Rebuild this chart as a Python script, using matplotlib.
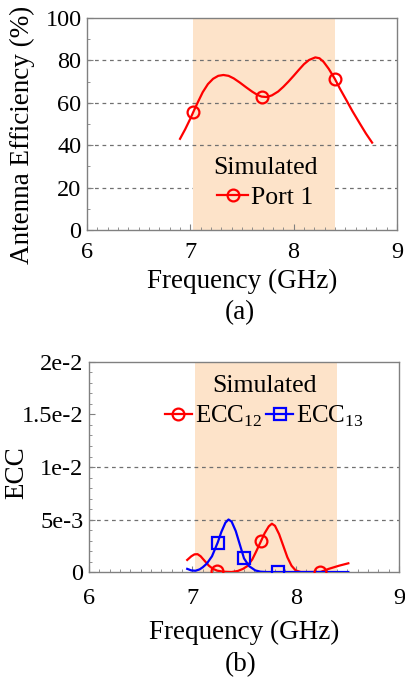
import numpy as np
import matplotlib
matplotlib.use("Agg")
import matplotlib.pyplot as plt
from matplotlib.ticker import MultipleLocator

plt.rcParams["font.family"] = ["Liberation Serif", "DejaVu Serif"]
plt.rcParams["mathtext.fontset"] = "custom"
plt.rcParams["mathtext.rm"] = "Liberation Serif"

# --- data ---
# (a) antenna efficiency, port 1
eff_freq = [6.90, 6.95, 7.00, 7.03, 7.07, 7.12, 7.17, 7.22, 7.27, 7.32, 7.37, 7.42,
            7.48, 7.54, 7.60, 7.65, 7.69, 7.74, 7.79, 7.85, 7.90, 7.95, 8.00, 8.05,
            8.10, 8.15, 8.21, 8.25, 8.29, 8.34, 8.40, 8.45, 8.51, 8.57, 8.64, 8.70, 8.76]
eff_port1 = [43.0, 47.5, 52.5, 55.8, 60.0, 65.0, 68.8, 71.3, 72.7, 73.1, 72.7, 71.5,
             69.5, 67.3, 65.2, 63.7, 62.9, 62.7, 63.5, 65.3, 67.5, 70.0, 72.7, 75.5,
             78.2, 80.2, 81.4, 81.0, 79.3, 76.0, 71.2, 66.5, 61.3, 56.0, 50.3, 45.5, 41.2]
eff_mark_freq = [7.03, 7.69, 8.40]
eff_mark_val = [55.8, 62.9, 71.2]

# (b) envelope correlation coefficient, in units of 1e-3
ecc12_freq = [6.95, 6.99, 7.02, 7.05, 7.08, 7.12, 7.16, 7.20, 7.24, 7.30, 7.38, 7.44,
              7.49, 7.53, 7.58, 7.62, 7.665, 7.70, 7.74, 7.77, 7.80, 7.84, 7.88, 7.92,
              7.96, 8.00, 8.05, 8.24, 8.32, 8.42, 8.51]
ecc12 = [1.15, 1.5, 1.68, 1.7, 1.5, 1.05, 0.6, 0.3, 0.13, 0.03, 0.0, 0.1,
         0.3, 0.55, 1.2, 2.0, 2.95, 3.7, 4.35, 4.6, 4.4, 3.6, 2.5, 1.4,
         0.6, 0.15, 0.0, 0.0, 0.3, 0.6, 0.83]
ecc12_mark_freq = [7.24, 7.665, 8.24]
ecc12_mark_val = [0.13, 2.95, 0.0]

ecc13_freq = [6.95, 6.99, 7.03, 7.07, 7.10, 7.14, 7.19, 7.245, 7.28, 7.32, 7.35, 7.38,
              7.42, 7.46, 7.50, 7.55, 7.61, 7.66, 7.72, 7.83, 8.51]
ecc13 = [0.3, 0.15, 0.12, 0.25, 0.45, 0.8, 1.5, 2.8, 3.8, 4.7, 5.0, 4.8,
         3.9, 2.6, 1.3, 0.55, 0.15, 0.03, 0.0, 0.0, 0.0]
ecc13_mark_freq = [7.245, 7.50, 7.83]
ecc13_mark_val = [2.8, 1.3, 0.0]

band = (7.03, 8.40)
ecc_ticks = [0, 5e-3, 1e-2, 1.5e-2, 2e-2]
ecc_ticklabels = ["0", "5e-3", "1e-2", "1.5e-2", "2e-2"]

shade = "#fde3c9"
edge = "#808080"
grid_kw = dict(color="#707070", ls=(0, (3, 3)), lw=0.9)

fig = plt.figure(figsize=(4.05, 6.83), dpi=100)
ax1 = fig.add_axes([0.215, 0.6633, 0.765, 0.3104])
ax2 = fig.add_axes([0.220, 0.1625, 0.765, 0.3075])


def style_axes(ax, xpad):
    for s in ax.spines.values():
        s.set_color(edge)
        s.set_linewidth(1.0)
    ax.tick_params(which="both", direction="in", color=edge, labelsize=17.5)
    ax.tick_params(axis="x", pad=xpad)
    ax.tick_params(axis="y", pad=4)
    ax.tick_params(which="major", length=4, width=0.8)
    ax.tick_params(which="minor", length=2.5, width=0.6)
    ax.set_xlim(6, 9)
    ax.xaxis.set_major_locator(MultipleLocator(1))
    ax.xaxis.set_minor_locator(MultipleLocator(0.1))


# --- (a) ---
style_axes(ax1, 8.5)
ax1.set_ylim(0, 100)
ax1.yaxis.set_major_locator(MultipleLocator(20))
ax1.yaxis.set_minor_locator(MultipleLocator(10))
ax1.axhline(20, zorder=0.5, **grid_kw)
ax1.axvspan(band[0], band[1], color=shade, lw=0, zorder=1)
for g in [40, 60, 80]:
    ax1.axhline(g, zorder=1.5, **grid_kw)
ax1.plot(eff_freq, eff_port1, color="red", lw=1.6, zorder=3)
ax1.plot(eff_mark_freq, eff_mark_val, ls="none", marker="o", ms=8.5, mfc="none",
         mec="red", mew=1.6, zorder=4)
ax1.plot([], [], color="red", lw=1.6, marker="o", ms=8.5, mfc="none", mew=1.6,
         label="Port 1")
ax1.legend(title="Simulated", loc="center", bbox_to_anchor=(0.575, 0.222),
           frameon=False, fontsize=18.5, title_fontsize=18.5, handlelength=1.2,
           handletextpad=0.1, borderpad=0, labelspacing=0.3)
ax1.set_xlabel("Frequency (GHz)", fontsize=19.5, va="center")
ax1.xaxis.set_label_coords(0.5, -0.245)
ax1.set_ylabel("Antenna Efficiency (%)", fontsize=19.5, va="center")
ax1.yaxis.set_label_coords(-0.21, 0.448)
fig.text(0.593, 0.5417, "(a)", fontsize=19.5, ha="center", va="center")

# --- (b) ---
style_axes(ax2, 11.5)
ax2.set_ylim(0, 2e-2)
ax2.set_yticks(ecc_ticks)
ax2.set_yticklabels(ecc_ticklabels)
ax2.yaxis.set_minor_locator(MultipleLocator(1e-3))
ax2.axvspan(band[0], band[1], color=shade, lw=0, zorder=1)
for g in [5e-3, 1e-2]:
    ax2.axhline(g, zorder=1.5, **grid_kw)
ax2.plot(ecc12_freq, np.array(ecc12) * 1e-3, color="red", lw=1.6, zorder=3)
ax2.plot(ecc13_freq, np.array(ecc13) * 1e-3, color="blue", lw=1.6, zorder=3)
ax2.plot(ecc12_mark_freq, np.array(ecc12_mark_val) * 1e-3, ls="none", marker="o",
         ms=8.5, mfc="none", mec="red", mew=1.6, zorder=4)
ax2.plot(ecc13_mark_freq, np.array(ecc13_mark_val) * 1e-3, ls="none", marker="s",
         ms=8, mfc="none", mec="blue", mew=1.6, zorder=4)
ax2.plot([], [], color="red", lw=1.6, marker="o", ms=8.5, mfc="none", mew=1.6,
         label="ECC$_{12}$")
ax2.plot([], [], color="blue", lw=1.6, marker="s", ms=8, mfc="none", mew=1.6,
         label="ECC$_{13}$")
ax2.legend(title="Simulated", loc="center", bbox_to_anchor=(0.565, 0.81),
           ncol=2, frameon=False, fontsize=18, title_fontsize=18.5,
           handlelength=1.1, handletextpad=0.1, columnspacing=0.15,
           borderpad=0, labelspacing=0.3)
ax2.set_xlabel("Frequency (GHz)", fontsize=19.5, va="center")
ax2.xaxis.set_label_coords(0.5, -0.286)
ax2.set_ylabel("ECC", fontsize=19.5, va="center")
ax2.yaxis.set_label_coords(-0.232, 0.471)
fig.text(0.593, 0.0264, "(b)", fontsize=19.5, ha="center", va="center")

fig.savefig("out.png", dpi=100)
